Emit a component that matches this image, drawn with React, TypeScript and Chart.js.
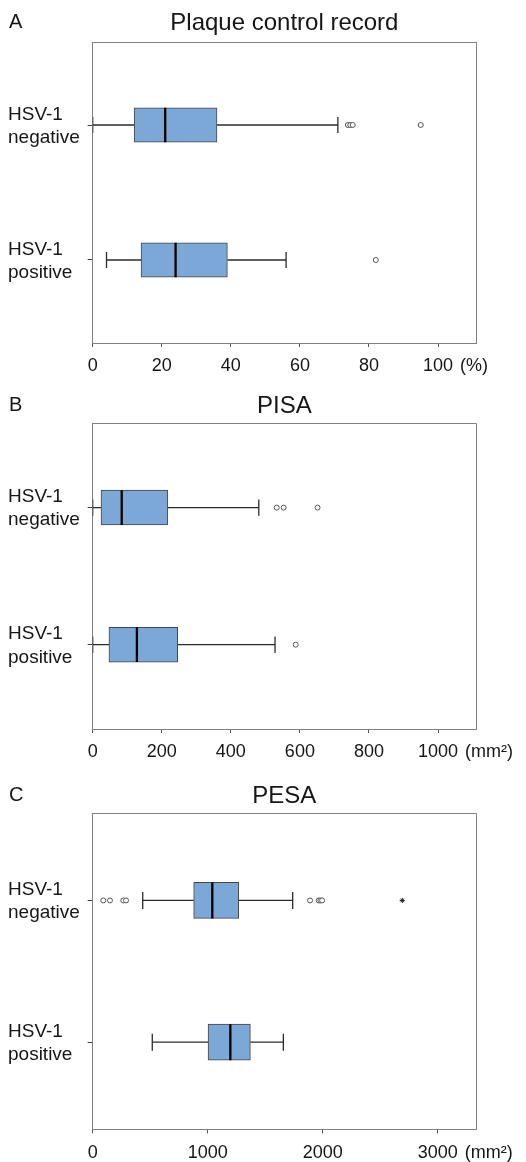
import React, { useEffect, useRef } from 'react';
import { Chart, registerables } from 'chart.js';

Chart.register(...registerables);

const FONT = "'Liberation Sans', Arial, Helvetica, sans-serif";
Chart.defaults.font.family = FONT;

// ---------- shared categories ----------
const CATEGORY_LABELS = [['HSV-1', 'negative'], ['HSV-1', 'positive']];
const ROWS = [1, 2];

// ---------- Panel A: Plaque control record ----------
const PCR_LETTER = 'A';
const PCR_TITLE = 'Plaque control record';
const PCR_UNIT = '(%)';
const PCR_TICKS = [0, 20, 40, 60, 80, 100];
const PCR_AXIS_MAX = 111;
const PCR_MIN = [0, 4];
const PCR_Q1 = [12, 14];
const PCR_MEDIAN = [21, 24];
const PCR_Q3 = [36, 39];
const PCR_MAX = [71, 56];
const PCR_OUTLIERS = [[73.9, 74.6, 75.3, 95], [82]];
const PCR_EXTREMES = [[], []];

// ---------- Panel B: PISA ----------
const PISA_LETTER = 'B';
const PISA_TITLE = 'PISA';
const PISA_UNIT = '(mm²)';
const PISA_TICKS = [0, 200, 400, 600, 800, 1000];
const PISA_AXIS_MAX = 1110;
const PISA_MIN = [0, 0];
const PISA_Q1 = [24, 47];
const PISA_MEDIAN = [84, 128];
const PISA_Q3 = [217, 246];
const PISA_MAX = [481, 528];
const PISA_OUTLIERS = [[533, 553, 651], [588]];
const PISA_EXTREMES = [[], []];

// ---------- Panel C: PESA ----------
const PESA_LETTER = 'C';
const PESA_TITLE = 'PESA';
const PESA_UNIT = '(mm²)';
const PESA_TICKS = [0, 1000, 2000, 3000];
const PESA_AXIS_MAX = 3333;
const PESA_MIN = [435, 518];
const PESA_Q1 = [878, 1003];
const PESA_MEDIAN = [1040, 1197];
const PESA_Q3 = [1270, 1371];
const PESA_MAX = [1739, 1658];
const PESA_OUTLIERS = [[92, 150, 266, 290, 1890, 1965, 1980, 1995], []];
const PESA_EXTREMES = [[2692], []];

// ---------- styling / layout ----------
const Y_MIN = 0.385;
const Y_MAX = 2.615;
const BOX_HALF = 0.127;
const CAP_HALF = 0.06;
const BOX_FILL = '#7ba8d6';
const BOX_BORDER = '#454545';
const WHISKER = '#2a2a2a';
const FRAME = '#808080';
const TEXT = '#161616';
const CANVAS_W = 510;
const Y_AXIS_W = 84.7;
const RIGHT_PAD = 42;
const X_TICK_LEN = 4;
const X_TICK_PAD = 8.5;
const X_FONT = 18;

const PANELS = [
  {
    letter: PCR_LETTER, title: PCR_TITLE, unit: PCR_UNIT, ticks: PCR_TICKS, axisMax: PCR_AXIS_MAX,
    min: PCR_MIN, q1: PCR_Q1, median: PCR_MEDIAN, q3: PCR_Q3, max: PCR_MAX,
    outliers: PCR_OUTLIERS, extremes: PCR_EXTREMES,
  },
  {
    letter: PISA_LETTER, title: PISA_TITLE, unit: PISA_UNIT, ticks: PISA_TICKS, axisMax: PISA_AXIS_MAX,
    min: PISA_MIN, q1: PISA_Q1, median: PISA_MEDIAN, q3: PISA_Q3, max: PISA_MAX,
    outliers: PISA_OUTLIERS, extremes: PISA_EXTREMES,
  },
  {
    letter: PESA_LETTER, title: PESA_TITLE, unit: PESA_UNIT, ticks: PESA_TICKS, axisMax: PESA_AXIS_MAX,
    min: PESA_MIN, q1: PESA_Q1, median: PESA_MEDIAN, q3: PESA_Q3, max: PESA_MAX,
    outliers: PESA_OUTLIERS, extremes: PESA_EXTREMES,
  },
];

const LAYOUTS = [
  { canvasHeight: 382, titleTop: 0.6, titleBottom: 4.6, plotBottom: 335 },
  { canvasHeight: 390, titleTop: 1.6, titleBottom: 2.9, plotBottom: 339 },
  { canvasHeight: 382, titleTop: 1.6, titleBottom: 2.9, plotBottom: 349.3 },
];

function lineSeg(data: any[], color: string, width: number, order: number) {
  return {
    type: 'line',
    data,
    borderColor: color,
    borderWidth: width,
    pointRadius: 0,
    pointHoverRadius: 0,
    tension: 0,
    fill: false,
    order,
    xAxisID: 'x',
    yAxisID: 'y',
  };
}

function buildConfig(p: any, L: any) {
  const titleH = 24 * 1.2;
  const plotTop = L.titleTop + titleH + L.titleBottom;
  const pxPerUnit = (L.plotBottom - plotTop) / (Y_MAX - Y_MIN);
  const barThickness = 2 * BOX_HALF * pxPerUnit;
  const titleCenter = L.titleTop + titleH / 2;
  const lastNumeric = p.ticks[p.ticks.length - 1];

  const datasets: any[] = [];
  ROWS.forEach((r, i) => {
    datasets.push(lineSeg([{ x: p.median[i], y: r - BOX_HALF }, { x: p.median[i], y: r + BOX_HALF }], '#000', 2.3, 0));
    datasets.push(lineSeg([{ x: p.min[i], y: r }, { x: p.q1[i], y: r }], WHISKER, 1.3, 3));
    datasets.push(lineSeg([{ x: p.q3[i], y: r }, { x: p.max[i], y: r }], WHISKER, 1.3, 3));
    datasets.push(lineSeg([{ x: p.min[i], y: r - CAP_HALF }, { x: p.min[i], y: r + CAP_HALF }], WHISKER, 1.3, 3));
    datasets.push(lineSeg([{ x: p.max[i], y: r - CAP_HALF }, { x: p.max[i], y: r + CAP_HALF }], WHISKER, 1.3, 3));
  });
  datasets.push({
    type: 'bar',
    indexAxis: 'y',
    data: ROWS.map((r, i) => ({ x: [p.q1[i], p.q3[i]], y: r })),
    backgroundColor: BOX_FILL,
    borderColor: BOX_BORDER,
    borderWidth: 1,
    borderSkipped: false,
    barThickness,
    order: 1,
    xAxisID: 'x',
    yAxisID: 'y',
  });
  const outlierPts: any[] = [];
  const extremePts: any[] = [];
  ROWS.forEach((r, i) => {
    p.outliers[i].forEach((v: number) => outlierPts.push({ x: v, y: r }));
    p.extremes[i].forEach((v: number) => extremePts.push({ x: v, y: r }));
  });
  datasets.push({
    type: 'scatter',
    data: outlierPts,
    pointStyle: 'circle',
    pointRadius: 2.5,
    pointHoverRadius: 2.5,
    borderColor: '#555',
    backgroundColor: '#fff',
    borderWidth: 1,
    order: 0,
    xAxisID: 'x',
    yAxisID: 'y',
  });
  datasets.push({
    type: 'scatter',
    data: extremePts,
    pointStyle: 'star',
    pointRadius: 2.6,
    pointHoverRadius: 2.6,
    borderColor: '#222',
    backgroundColor: '#222',
    borderWidth: 1,
    order: 0,
    xAxisID: 'x',
    yAxisID: 'y',
  });

  const panelText = {
    id: 'panelText',
    afterDraw(chart: any) {
      const ctx = chart.ctx;
      const xs = chart.scales.x;
      ctx.save();
      ctx.fillStyle = TEXT;
      ctx.textBaseline = 'middle';
      ctx.textAlign = 'left';
      ctx.font = `20px ${FONT}`;
      ctx.fillText(p.letter, 1, titleCenter - 1);
      ctx.font = `${X_FONT}px ${FONT}`;
      const w = ctx.measureText(String(lastNumeric)).width;
      const ux = xs.getPixelForValue(lastNumeric) + w / 2 + 7;
      const uy = xs.top + X_TICK_LEN + X_TICK_PAD + (X_FONT * 1.2) / 2;
      ctx.fillText(p.unit, ux, uy);
      ctx.restore();
    },
  };

  return {
    type: 'scatter',
    data: { datasets },
    plugins: [panelText],
    options: {
      responsive: false,
      animation: false,
      devicePixelRatio: 1,
      layout: { padding: { left: 0, right: RIGHT_PAD, top: 0, bottom: 0 } },
      plugins: {
        legend: { display: false },
        tooltip: { enabled: false },
        title: {
          display: true,
          text: p.title,
          fullSize: false,
          color: TEXT,
          font: { size: 24, family: FONT, weight: 'normal', lineHeight: 1.2 },
          padding: { top: L.titleTop, bottom: L.titleBottom },
        },
      },
      scales: {
        x: {
          type: 'linear',
          position: 'bottom',
          min: 0,
          max: p.axisMax,
          offset: false,
          afterBuildTicks: (s: any) => {
            s.ticks = [...p.ticks, p.axisMax].map((v: number) => ({ value: v }));
          },
          afterFit: (s: any) => {
            s.height = L.canvasHeight - L.plotBottom;
          },
          ticks: {
            autoSkip: false,
            maxRotation: 0,
            minRotation: 0,
            padding: X_TICK_PAD,
            color: TEXT,
            font: { size: X_FONT, family: FONT, lineHeight: 1.2 },
            callback: (v: number) => (v === p.axisMax ? '' : String(v)),
          },
          grid: {
            offset: false,
            drawOnChartArea: true,
            drawTicks: true,
            tickLength: X_TICK_LEN,
            lineWidth: 1,
            color: (c: any) => (c.tick && (c.tick.value === 0 || c.tick.value === p.axisMax) ? FRAME : 'rgba(0,0,0,0)'),
            tickColor: (c: any) => (c.tick && c.tick.value === p.axisMax ? 'rgba(0,0,0,0)' : '#555'),
          },
          border: { display: true, color: FRAME, width: 1 },
        },
        y: {
          type: 'linear',
          position: 'left',
          min: Y_MIN,
          max: Y_MAX,
          reverse: true,
          offset: false,
          afterBuildTicks: (s: any) => {
            s.ticks = [Y_MIN, ...ROWS, Y_MAX].map((v) => ({ value: v }));
          },
          afterFit: (s: any) => {
            s.width = Y_AXIS_W;
          },
          ticks: {
            autoSkip: false,
            crossAlign: 'far',
            labelOffset: 1,
            color: TEXT,
            font: { size: 19, family: FONT, lineHeight: 1.22 },
            callback: (v: number) => {
              const idx = ROWS.indexOf(v);
              return idx >= 0 ? CATEGORY_LABELS[idx] : '';
            },
          },
          grid: {
            offset: false,
            drawOnChartArea: true,
            drawTicks: true,
            tickLength: 5,
            lineWidth: 1,
            color: (c: any) => (c.tick && ROWS.indexOf(c.tick.value) >= 0 ? 'rgba(0,0,0,0)' : FRAME),
            tickColor: (c: any) => (c.tick && ROWS.indexOf(c.tick.value) >= 0 ? '#444' : 'rgba(0,0,0,0)'),
          },
          border: { display: true, color: FRAME, width: 1 },
        },
      },
    },
  };
}

function BoxPanel({ panel, layout }: { panel: any; layout: any }) {
  const ref = useRef<HTMLCanvasElement>(null);
  useEffect(() => {
    if (!ref.current) return;
    const chart = new Chart(ref.current, buildConfig(panel, layout) as any);
    return () => chart.destroy();
  }, [panel, layout]);
  return (
    <canvas
      ref={ref}
      width={CANVAS_W}
      height={layout.canvasHeight}
      style={{ display: 'block', width: CANVAS_W, height: layout.canvasHeight }}
    />
  );
}

export default function App() {
  return (
    <div style={{ width: CANVAS_W, background: '#fff' }}>
      {PANELS.map((p, i) => (
        <BoxPanel key={p.letter} panel={p} layout={LAYOUTS[i]} />
      ))}
    </div>
  );
}
